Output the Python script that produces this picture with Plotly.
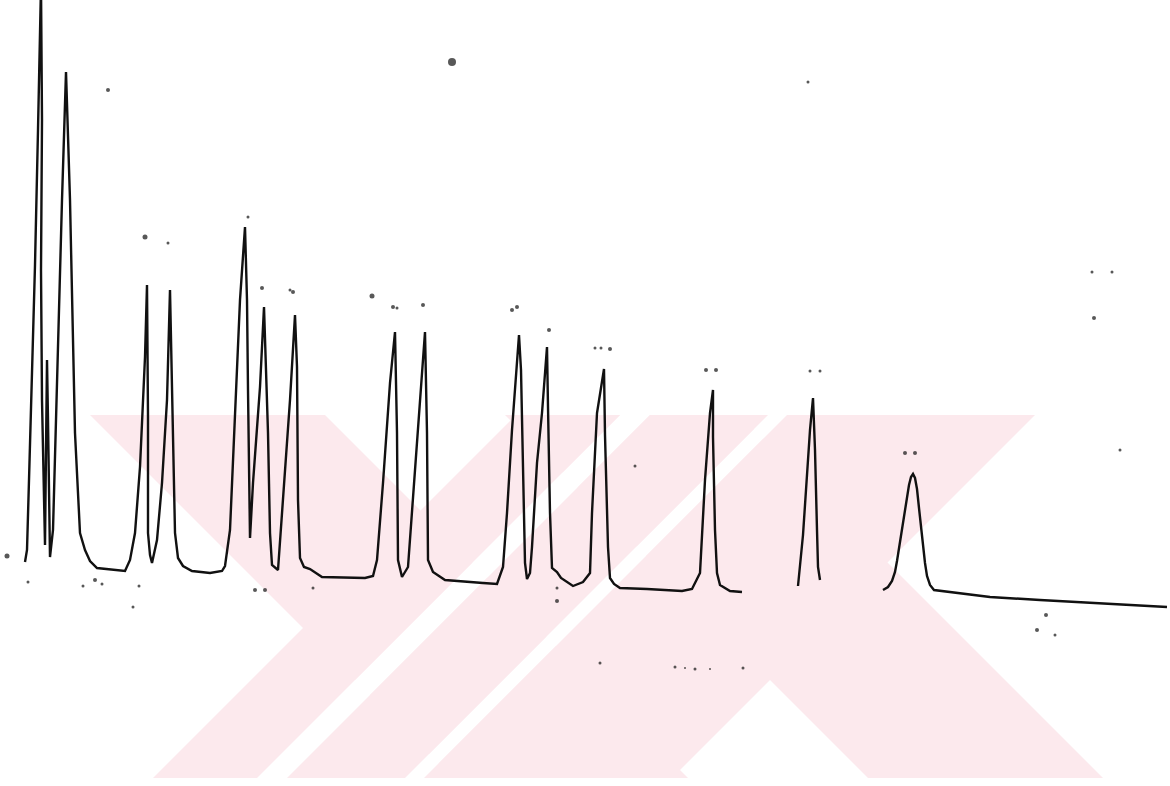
import plotly.graph_objects as go

# Recorder trace: retention time (min) and detector response (mV).
# None marks stretches where the pen left no ink on the chart.
time_min = [
    0.625, 0.675, 0.725, 0.800, 0.875, 0.950, 1.025, 1.050, 1.025, 1.050,
    1.100, 1.125, 1.150, 1.175, 1.200, 1.225, 1.250, 1.325, 1.425, 1.550,
    1.650, 1.750, 1.875, 2.000, 2.125, 2.250, 2.425, 2.800, 3.125, 3.250,
    3.375, 3.500, 3.625, 3.675, 3.700, 3.700, 3.750, 3.800, 3.925, 4.050,
    4.175, 4.250, 4.325, 4.375, 4.450, 4.575, 4.800, 5.250, 5.550, 5.625,
    5.750, 5.875, 6.000, 6.125, 6.175, 6.200, 6.225, 6.250, 6.325, 6.500,
    6.600, 6.700, 6.750, 6.800, 6.950, 7.075, 7.250, 7.375, 7.425, 7.450,
    7.500, 7.600, 7.750, 8.050, 8.700, 9.125, 9.325, 9.425, 9.575, 9.750,
    9.875, 9.925, 9.950, 10.050, 10.200, 10.325, 10.500, 10.625, 10.675, 10.700,
    10.825, 11.125, 12.075, 12.425, 12.575, 12.675, 12.800, 12.925, 12.975, 13.025,
    13.075, 13.125, 13.175, 13.250, 13.300, 13.425, 13.550, 13.650, 13.675, 13.700,
    13.750, 13.800, 13.925, 14.025, 14.325, 14.575, 14.750, 14.800, 14.925, 15.100,
    15.125, 15.200, 15.250, 15.350, 15.500, 16.175, 17.050, 17.300, 17.500, 17.625,
    17.750, 17.825, 17.825, 17.875, 17.925, 18.000, 18.250, 18.550, None,
    19.950, 20.075, 20.150, 20.250, 20.325, 20.375, 20.425, 20.450, 20.500, None,
    22.075, 22.200, 22.300, 22.375, 22.425, 22.500, 22.575, 22.650, 22.725, 22.775,
    22.825, 22.875, 22.925, 22.975, 23.050, 23.125, 23.175, 23.250, 23.350,
    23.925, 24.750, 26.000, 27.500, 29.175,
]
response_mv = [
    1.90, 2.50, 6.00, 11.00, 16.75, 23.50, 30.75, 24.00, 16.50, 10.00,
    4.00, 2.75, 7.50, 12.00, 9.00, 4.00, 2.15, 3.50, 11.00, 20.00,
    26.40, 20.00, 8.35, 3.35, 2.50, 1.95, 1.60, 1.50, 1.45, 2.00,
    3.35, 6.65, 12.15, 15.75, 9.15, 3.35, 2.25, 1.85, 3.00, 5.85,
    10.00, 15.50, 8.35, 3.35, 2.10, 1.70, 1.45, 1.35, 1.45, 1.70,
    3.50, 9.15, 15.00, 18.65, 15.00, 10.50, 6.65, 3.10, 5.85, 10.65,
    14.65, 8.35, 3.35, 1.75, 1.50, 5.00, 10.00, 14.25, 11.65, 5.00,
    2.10, 1.65, 1.55, 1.15, 1.10, 1.10, 1.20, 2.00, 5.85, 10.85,
    13.40, 8.35, 2.00, 1.15, 1.65, 5.00, 10.00, 13.40, 8.35, 2.00,
    1.40, 1.00, 0.85, 0.80, 1.65, 4.35, 8.50, 11.85, 13.25, 11.50,
    6.85, 1.85, 1.05, 1.35, 2.65, 6.85, 9.35, 11.65, 12.65, 9.65,
    4.35, 1.60, 1.40, 1.10, 0.70, 0.90, 1.35, 4.35, 9.35, 11.55,
    8.25, 2.65, 1.10, 0.80, 0.60, 0.55, 0.45, 0.55, 1.35, 6.00,
    9.35, 10.50, 8.15, 3.50, 1.35, 0.75, 0.45, 0.40, None,
    0.70, 3.25, 5.50, 8.50, 10.10, 7.50, 3.50, 1.65, 1.00, None,
    0.50, 0.65, 0.95, 1.40, 1.95, 2.90, 3.90, 4.90, 5.75, 6.15,
    6.30, 6.10, 5.55, 4.60, 3.10, 1.85, 1.20, 0.75, 0.50,
    0.35, 0.15, 0.00, -0.15, -0.35,
]

# Stray ink specks and faint peak-number marks on the chart paper
speck_time = [
    0.175, 0.700, 2.075, 2.375, 2.550, 2.700, 3.325, 3.475, 3.625, 4.200,
    6.200, 6.375, 6.625, 6.550, 7.250, 7.325, 7.825, 9.300, 9.825, 9.925,
    10.575, 11.300, 12.800, 12.925, 13.725, 14.875, 15.025, 15.250, 13.925, 13.925,
    15.875, 15.000, 16.875, 17.125, 17.375, 17.750, 18.575, 17.650, 17.900, 20.200,
    20.250, 20.500, 22.625, 22.875, 27.300, 27.800, 27.350, 28.000, 26.150, 25.925,
    26.375,
]
speck_resp = [
    2.20, 0.90, 0.70, 1.00, 0.80, 25.50, -0.35, 0.70, 18.15, 17.85,
    19.15, 0.50, 0.50, 15.60, 15.50, 15.40, 0.60, 15.20, 14.65, 14.60,
    14.75, 26.90, 14.50, 14.65, 13.50, 12.60, 12.60, 12.55, 0.60, -0.05,
    6.70, -3.15, -3.35, -3.40, -3.45, -3.45, -3.40, 11.50, 11.50, 25.90,
    11.45, 11.45, 7.35, 7.35, 16.40, 16.40, 14.10, 7.50, -0.75, -1.50,
    -1.75,
]
speck_size = [
    5, 3, 3, 4, 3, 4, 3, 3, 5, 3,
    3, 4, 4, 4, 3, 4, 3, 5, 4, 3,
    4, 8, 4, 4, 4, 3, 3, 4, 3, 4,
    3, 3, 3, 2, 3, 2, 3, 4, 4, 3,
    3, 3, 4, 4, 3, 3, 4, 3, 4, 4,
    3,
]

W, H = 1170, 786
X_RANGE = [0, 29.25]
Y_RANGE = [-9.3, 30.0]
PINK = "#fce9ed"

fig = go.Figure()

# Pale pink watermark: 45-degree bands in page pixels, drawn under the trace.
# "down" bands are given by their span on the top edge, "up" bands by their
# span on the bottom edge; "gap" bands are white separators painted over the
# down bands before the up bands are laid on top.
WM_TOP, WM_BOTTOM = 415, 778
wm_layers = [
    ("down", 90, 325, PINK),
    ("down", 505, 740, PINK),
    ("gap", 257, 287, "white"),
    ("gap", 405, 424, "white"),
    ("up", 153, 257, PINK),
    ("up", 287, 405, PINK),
    ("up", 424, 672, PINK),
]
span = WM_BOTTOM - WM_TOP
for kind, a, b, colour in wm_layers:
    if kind == "down":
        pts = [(a, WM_TOP), (b, WM_TOP), (b + span, WM_BOTTOM), (a + span, WM_BOTTOM)]
    else:
        pts = [(a, WM_BOTTOM), (b, WM_BOTTOM), (b + span, WM_TOP), (a + span, WM_TOP)]
    path = "M " + " L ".join(f"{x / W:.5f},{1 - y / H:.5f}" for x, y in pts) + " Z"
    fig.add_shape(type="path", path=path, xref="paper", yref="paper",
                  fillcolor=colour, line=dict(width=0), layer="below")

fig.add_trace(go.Scatter(
    x=time_min, y=response_mv, mode="lines",
    line=dict(color="#111111", width=2.4),
    connectgaps=False, hoverinfo="skip", showlegend=False,
))
fig.add_trace(go.Scatter(
    x=speck_time, y=speck_resp, mode="markers",
    marker=dict(color="#111111", size=speck_size, line=dict(width=0)),
    hoverinfo="skip", showlegend=False,
))

fig.update_layout(
    width=W, height=H,
    margin=dict(l=0, r=0, t=0, b=0),
    paper_bgcolor="white", plot_bgcolor="rgba(0,0,0,0)",
    xaxis=dict(range=X_RANGE, visible=False, fixedrange=True),
    yaxis=dict(range=Y_RANGE, visible=False, fixedrange=True),
)

fig.write_html("out.html")
